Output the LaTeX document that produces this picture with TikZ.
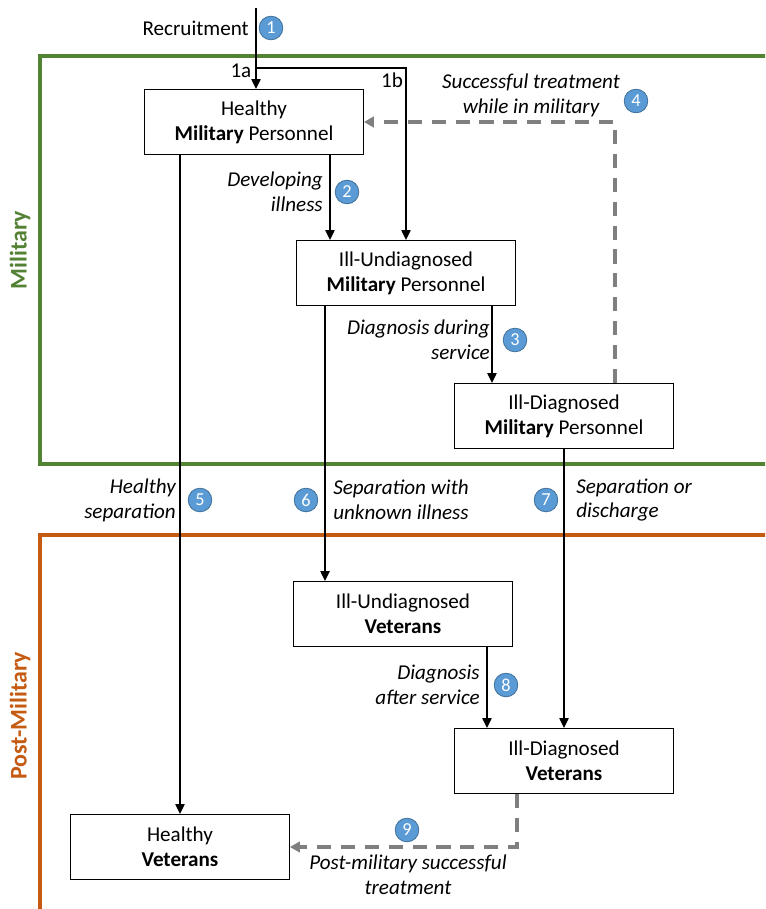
\documentclass[tikz,border=0pt]{standalone}
\usepackage{fontspec}
\setmainfont{Carlito}
\usetikzlibrary{arrows.meta,positioning,calc}
\definecolor{milgreen}{HTML}{548235}
\definecolor{postorange}{HTML}{C55A11}
\definecolor{badgeblue}{HTML}{5B9BD5}
\definecolor{badgeedge}{HTML}{41719C}
\definecolor{treatgray}{HTML}{7F7F7F}
\tikzset{
  box/.style={draw, rectangle, line width=0.8pt, fill=white, align=center,
  minimum width=5.47cm,
  minimum height=1.62cm},
  arr/.style={-{Triangle[length=7pt,width=6.5pt]}, line width=1pt},
  dasharr/.style={-{Triangle[length=7pt,width=7.5pt]}, dash pattern=on 10pt off 7pt, line width=2.3pt, draw=treatgray},
  badge/.style={circle, fill=badgeblue, draw=badgeedge, line width=0.6pt, text=white, inner sep=0pt,
  minimum size=16.8pt, font=\fontsize{13}{13}\selectfont},
  lbl/.style={font=\fontsize{15}{17.7}\selectfont\itshape, inner sep=0pt},
  side/.style={rotate=90, font=\fontsize{17}{17}\selectfont\bfseries, inner sep=0pt}}

\begin{document}
\begin{tikzpicture}[x=0.025cm, y=-0.025cm, font=\fontsize{15}{17.7}\selectfont]
\clip (0,0) rectangle (765,909);

% frames
\draw [milgreen, line width=2.8pt] (40,56) rectangle (800,464);
\draw [postorange, line width=2.8pt] (40,535) rectangle (800,950);
\node [side, text=milgreen] (milside) at (20,250) {Military};
\node [side, text=postorange] (postside) at (20,716) {Post-Military};

% states
\node [box] (hmp) at (254,122) {Healthy\\\textbf{Military} Personnel};
\node [box] (ium) at (406,273) {Ill-Undiagnosed\\\textbf{Military} Personnel};
\node [box] (idm) at (564,416) {Ill-Diagnosed\\\textbf{Military} Personnel};
\node [box] (iuv) at (403,614) {Ill-Undiagnosed\\\textbf{Veterans}};
\node [box] (idv) at (564,761) {Ill-Diagnosed\\\textbf{Veterans}};
\node [box] (hv) at (180,847) {Healthy\\\textbf{Veterans}};

% recruitment
\coordinate (rec) at (256,8);
\coordinate (br) at (256,68);
\draw [arr] (rec) -- (rec |- hmp.north);
\draw [arr] (br) -| (ium.north);
\node [anchor=east, inner sep=1pt] (l1a) at (253,71) {1a};
\node [inner sep=1pt] (l1b) at (392,80) {1b};
\node [anchor=east, inner sep=0pt] (lrec) at (249,28) {Recruitment};

% transitions
\draw [arr] (hmp.south -| hv.north) -- (hv.north);
\draw [arr] ($(hmp.south east)+(-34,0)$) coordinate (d2) -- (d2 |- ium.north);
\draw [arr] ($(ium.south west)+(29,0)$) coordinate (d6) -- (d6 |- iuv.north);
\draw [arr] ($(ium.south east)+(-24,0)$) coordinate (d3) -- (d3 |- idm.north);
\draw [arr] (idm.south) -- (idv.north);
\draw [arr] ($(iuv.south east)+(-26,0)$) coordinate (d8) -- (d8 |- idv.north);
\draw [dasharr] ($(idm.north east)+(-59,0)$) coordinate (d4) -- (d4 |- hmp.east) -- (hmp.east);
\draw [dasharr] ($(idv.south west)+(63,0)$) coordinate (d9) -- (d9 |- hv.east) -- (hv.east);

% labels
\node [lbl, anchor=east, align=right] (l2) at (323,192) {Developing\\illness};
\node [lbl, anchor=east, align=right] (l3) at (490,340) {Diagnosis during\\service};
\node [lbl, align=center] (l4) at (531,95) {Successful treatment\\while in military};
\node [lbl, anchor=east, align=right] (l5) at (176,500) {Healthy\\separation};
\node [lbl, anchor=west, align=left] (l6) at (333,500) {Separation with\\unknown illness};
\node [lbl, anchor=west, align=left] (l7) at (576,500) {Separation or\\discharge};
\node [lbl, anchor=east, align=right] (l8) at (480,685) {Diagnosis\\after service};
\node [lbl, align=center] (l9) at (408,875) {Post-military successful\\treatment};

% step numbers
\node [badge] (n1) at (271,28) {1};
\node [badge] (n2) at (347,192) {2};
\node [badge] (n3) at (515,340) {3};
\node [badge] (n4) at (636,101) {4};
\node [badge] (n5) at (200,500) {5};
\node [badge] (n6) at (306,500) {6};
\node [badge] (n7) at (546,500) {7};
\node [badge] (n8) at (506,685) {8};
\node [badge] (n9) at (407,830) {9};

\end{tikzpicture}
\end{document}
